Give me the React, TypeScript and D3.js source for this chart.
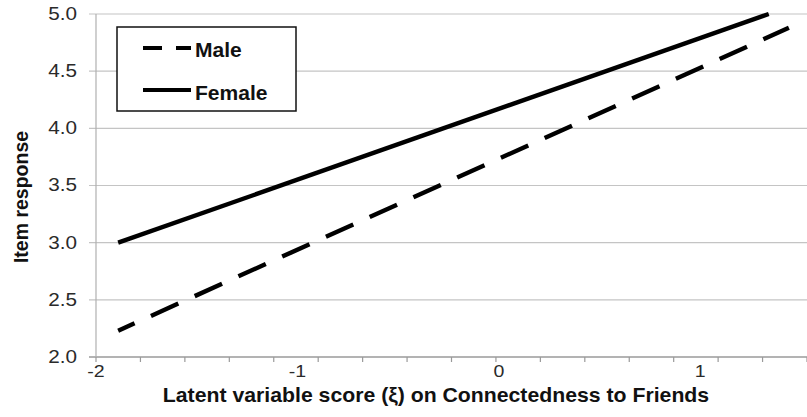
import React from "react";
import * as d3 from "d3";

const yTicks = [2.0, 2.5, 3.0, 3.5, 4.0, 4.5, 5.0];
const xTickLabels = [-2, -1, 0, 1];
const maleX = [-1.89, 1.44];
const maleY = [2.23, 4.88];
const femaleX = [-1.89, 1.34];
const femaleY = [3.0, 5.0];
const seriesNames = ["Male", "Female"];

const W = 807;
const H = 417;
const left = 96;
const right = 807;
const top = 14;
const bottom = 357;
const xMax = 1.53;

export default function App() {
  const x = d3.scaleLinear().domain([-2, xMax]).range([left, right]);
  const y = d3.scaleLinear().domain([2, 5]).range([bottom, top]);
  const line = d3
    .line<[number, number]>()
    .x((d) => x(d[0]))
    .y((d) => y(d[1]));
  const male: [number, number][] = maleX.map((v, i) => [v, maleY[i]]);
  const female: [number, number][] = femaleX.map((v, i) => [v, femaleY[i]]);
  const minor = d3.range(17).map((i) => -2 + (i * (xMax + 2)) / 16);
  const font = "'Liberation Sans', Arial, Helvetica, sans-serif";

  return (
    <svg
      width={W}
      height={H}
      style={{ position: "absolute", left: 0, top: 0, background: "#fff" }}
      fontFamily={font}
    >
      {yTicks.map((t) => (
        <g key={t}>
          <line
            x1={left - 7}
            x2={right}
            y1={y(t)}
            y2={y(t)}
            stroke={t === 2 ? "#9a9a9a" : "#c4c4c4"}
            strokeWidth={t === 2 ? 1.5 : 1.2}
          />
          <text
            x={77}
            y={y(t) + 6}
            textAnchor="end"
            fontSize={18}
            fill="#2a2a2a"
            transform={`translate(${77} 0) scale(1.15 1) translate(${-77} 0)`}
          >
            {t.toFixed(1)}
          </text>
        </g>
      ))}
      <line x1={left} x2={left} y1={top} y2={bottom} stroke="#b0b0b0" strokeWidth={1.2} />
      {minor.map((t, i) => (
        <line key={i} x1={x(t)} x2={x(t)} y1={bottom} y2={bottom + 5} stroke="#9a9a9a" strokeWidth={1.2} />
      ))}
      {xTickLabels.map((t) => (
        <text
          key={t}
          x={x(t)}
          y={377}
          textAnchor="middle"
          fontSize={17}
          fill="#2a2a2a"
          transform={`translate(${x(t)} 0) scale(1.15 1) translate(${-x(t)} 0)`}
        >
          {t}
        </text>
      ))}
      <path d={line(female) || ""} fill="none" stroke="#000" strokeWidth={4.4} />
      <path
        d={line(male) || ""}
        fill="none"
        stroke="#000"
        strokeWidth={4.4}
        strokeDasharray="30 18"
        strokeDashoffset={12}
      />
      <rect x={117} y={27} width={179} height={84} fill="#fff" stroke="#111" strokeWidth={1.5} />
      <line x1={143} x2={191} y1={48} y2={48} stroke="#000" strokeWidth={4} strokeDasharray="19 14" />
      <line x1={143} x2={191} y1={90} y2={90} stroke="#000" strokeWidth={4} />
      <text
        x={195}
        y={57}
        fontSize={19.5}
        fontWeight="bold"
        fill="#111"
        transform="translate(195 0) scale(1.08 1) translate(-195 0)"
      >
        {seriesNames[0]}
      </text>
      <text
        x={195}
        y={100}
        fontSize={19.5}
        fontWeight="bold"
        fill="#111"
        transform="translate(195 0) scale(1.08 1) translate(-195 0)"
      >
        {seriesNames[1]}
      </text>
      <text
        x={436}
        y={402}
        textAnchor="middle"
        fontSize={19.5}
        fontWeight="bold"
        fill="#111"
        transform={`translate(436 0) scale(1.09 1) translate(-436 0)`}
      >
        Latent variable score (ξ) on Connectedness to Friends
      </text>
      <text
        transform={`translate(28 197) rotate(-90)`}
        textAnchor="middle"
        fontSize={19.5}
        fontWeight="bold"
        fill="#111"
      >
        Item response
      </text>
    </svg>
  );
}
